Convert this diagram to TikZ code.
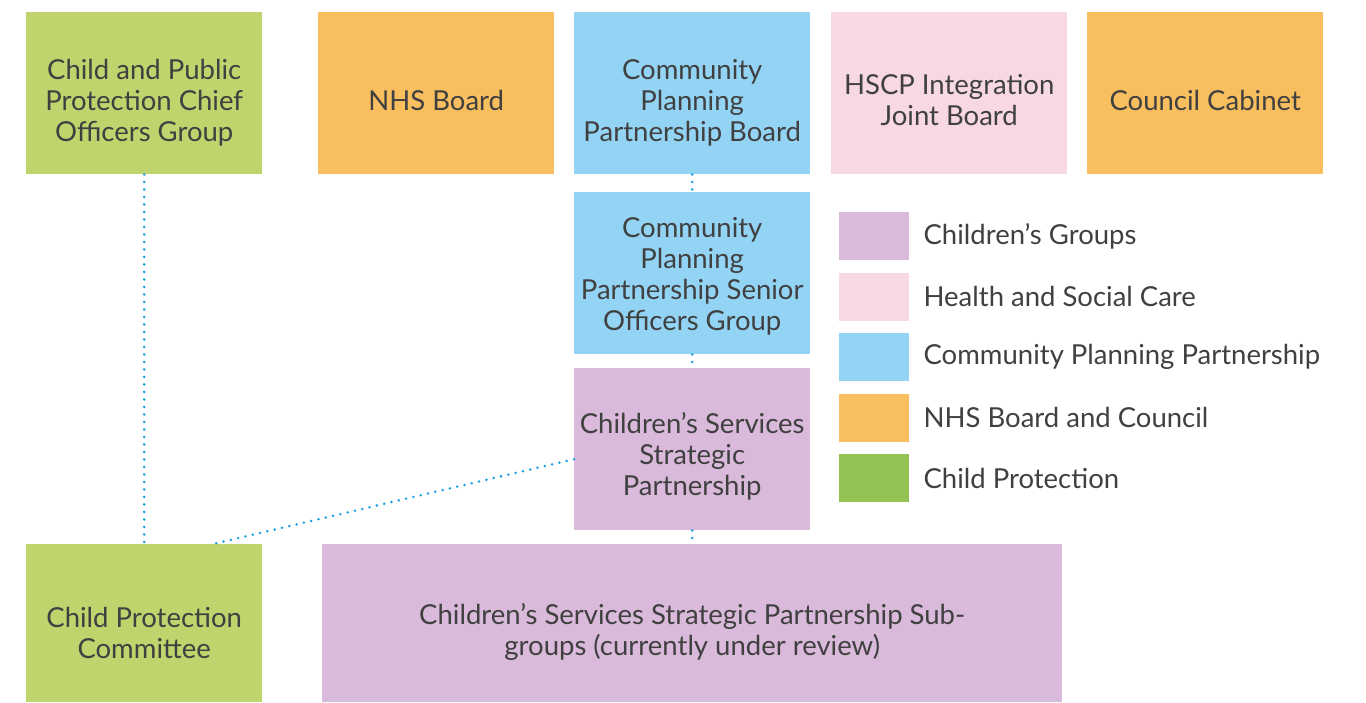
\documentclass[tikz,border=0pt]{standalone}
\usepackage{fontspec}
\setmainfont{Lato}
\usetikzlibrary{positioning}
\definecolor{cpgreen}{HTML}{BFD46D}
\definecolor{keygreen}{HTML}{93C355}
\definecolor{nhsorange}{HTML}{F9BE5E}
\definecolor{cppblue}{HTML}{93D4F5}
\definecolor{hscppink}{HTML}{F7D8E3}
\definecolor{cgpurple}{HTML}{DABADA}
\definecolor{linkblue}{HTML}{1AA0E0}
\definecolor{textgrey}{HTML}{404040}
%% box text sits a little below the middle of its box
\newcommand{\boxlines}[2][-17pt]{\raisebox{#1}[0pt][0pt]{\begin{tabular}{@{}c@{}}#2\end{tabular}}}

\begin{document}
\begin{tikzpicture}[x=1pt,y=-1pt,
  box/.style={anchor=north west,minimum width=236pt,minimum height=162pt,inner sep=0pt,
    text=textgrey,font=\fontsize{27.5}{31}\selectfont},
  key/.style={anchor=north west,minimum width=70pt,minimum height=48pt,inner sep=0pt},
  keytext/.style={right=14pt of #1,inner sep=0pt,text=textgrey,font=\fontsize{27.5}{31}\selectfont},
  link/.style={draw=linkblue,line width=2.8pt,line cap=round,dash pattern=on 0pt off 7.5pt}]
\useasboundingbox (0,0) rectangle (1366,702);
%%Top row
\node[box,fill=cpgreen] (chiefs) at (26,12) {\boxlines{Child and Public\\Protection Chief\\Officers Group}};
\node[box,fill=nhsorange] (nhs) at (318,12) {\boxlines{NHS Board}};
\node[box,fill=cppblue] (cppboard) at (574,12) {\boxlines{Community\\Planning\\Partnership Board}};
\node[box,fill=hscppink] (ijb) at (831,12) {\boxlines{HSCP Integration\\Joint Board}};
\node[box,fill=nhsorange] (cabinet) at (1087,12) {\boxlines{Council Cabinet}};
%%Middle column
\node[box,fill=cppblue] (senior) at (574,192) {\boxlines[-11pt]{Community\\Planning\\Partnership Senior\\Officers Group}};
\node[box,fill=cgpurple] (cssp) at (574,368) {\boxlines[-15pt]{Children’s Services\\Strategic\\Partnership}};
%%Bottom row
\node[box,fill=cpgreen,minimum height=158pt] (cpc) at (26,544) {\boxlines[-20pt]{Child Protection\\Committee}};
\node[box,fill=cgpurple,minimum width=740pt,minimum height=158pt] (subgroups) at (322,544)
  {\boxlines{Children’s Services Strategic Partnership Sub-\\groups (currently under review)}};
%%Links
\coordinate (cpcjoin) at (213,544);
\draw[link] (chiefs) -- (cpc);
\draw[link] (cppboard) -- (senior);
\draw[link] (senior) -- (cssp);
\draw[link] (cssp) -- (subgroups);
\draw[link] ([yshift=-10pt]cssp.west) -- (cpcjoin);
%%Legend
\foreach \c/\t [count=\i from 0] in {cgpurple/Children’s Groups,hscppink/Health and Social Care,
    cppblue/Community Planning Partnership,nhsorange/NHS Board and Council,keygreen/Child Protection}
{
  \node[key,fill=\c] (key\i) at (839,212+60.5*\i) {};
  \node[keytext=key\i] (label\i) {\t};
}
\end{tikzpicture}
\end{document}
